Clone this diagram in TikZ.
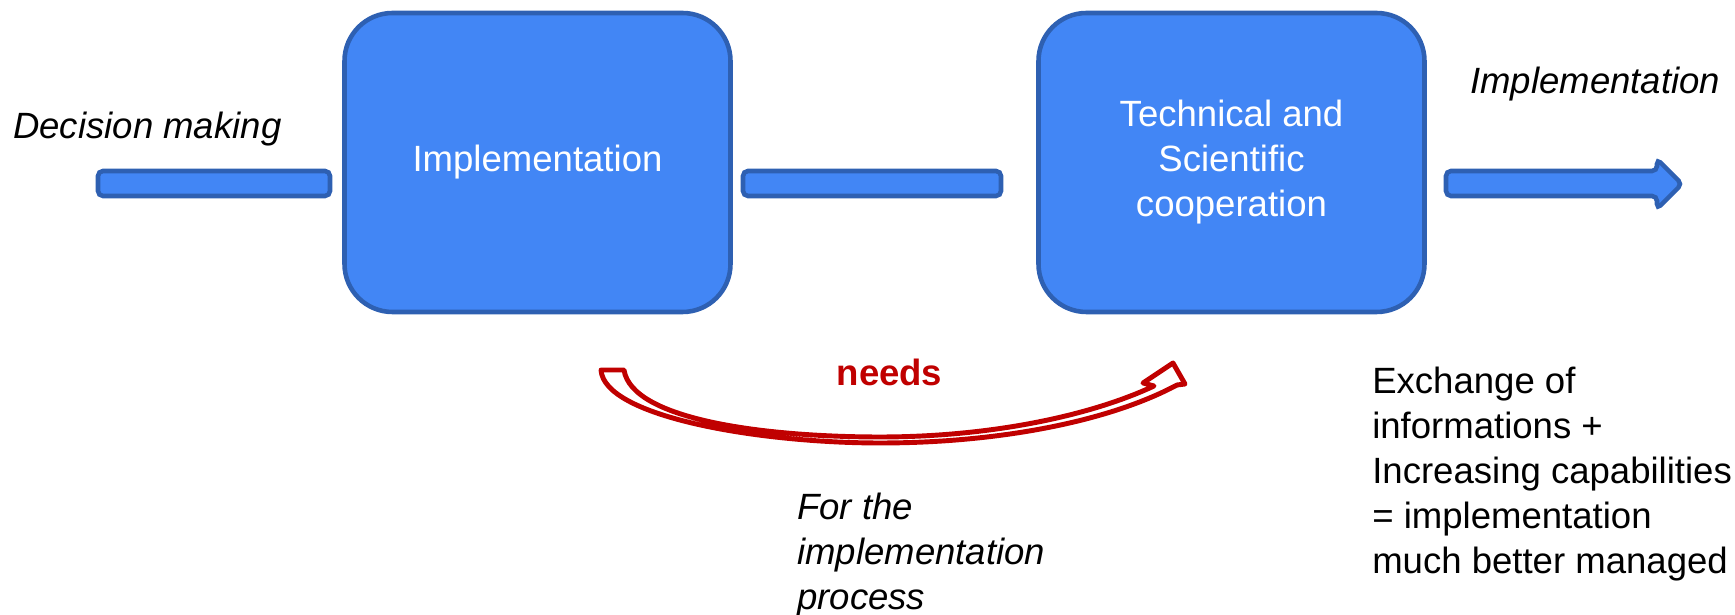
\documentclass[tikz,border=0pt]{standalone}
\usepackage{fontspec}
\setmainfont{Liberation Sans}
\definecolor{boxblue}{RGB}{66,134,245}
\definecolor{boxline}{RGB}{46,96,178}
\definecolor{needred}{RGB}{192,0,0}
\newcommand{\diagfont}{\fontsize{10.4}{12.8}\selectfont}
\begin{document}
\begin{tikzpicture}[x=0.1mm,y=-0.1mm,line width=1.3pt,font=\diagfont,
        block/.style={draw=boxline,fill=boxblue,rounded corners=4.8mm,minimum width=38.6mm,minimum height=29.9mm,inner sep=0,align=center,text=white},
        bar/.style={draw=boxline,fill=boxblue,rounded corners=0.5mm},
        note/.style={inner sep=0,align=left,anchor=north west},
        slanted/.style={note,font=\diagfont\itshape}]
    \useasboundingbox (0,0) rectangle (1735,615);
    \node[block] (impl) at (537.5,162.5) {Implementation};
    \node[block] (coop) at (1231.5,162.5) {Technical and\\Scientific\\cooperation};
    % bars
    \draw[bar] (98,171) rectangle (330,196);
    \draw[bar] (743,171) rectangle (1001,196);
    \draw[bar] (1446,171) -- (1657,171) -- (1657,159) -- (1682,184) -- (1657,209) -- (1657,196) -- (1446,196) -- cycle;
    % curved arrow
    \draw[needred,fill=white,line width=1.4pt,line join=round] (601,370) .. controls (604,417) and (760,443) .. (880,443)
        .. controls (1000,443) and (1110,421) .. (1177,385) -- (1185,384) -- (1173,363) -- (1143,383) -- (1154,386)
        .. controls (1090,416) and (990,437) .. (880,437) .. controls (770,437) and (632,421) .. (624,370) -- cycle;
    \node[slanted] (dm) at (11,110) {Decision making};
    \node[slanted] (out) at (1468,65) {Implementation};
    \node[inner sep=0,anchor=base,text=needred,font=\diagfont\bfseries] (needs) at (889.5,386) {needs};
    \node[slanted] (why) at (795,491) {For the\\implementation\\process};
    \node[note] (gain) at (1370,365) {Exchange of\\informations +\\Increasing capabilities\\= implementation\\much better managed};
\end{tikzpicture}
\end{document}
